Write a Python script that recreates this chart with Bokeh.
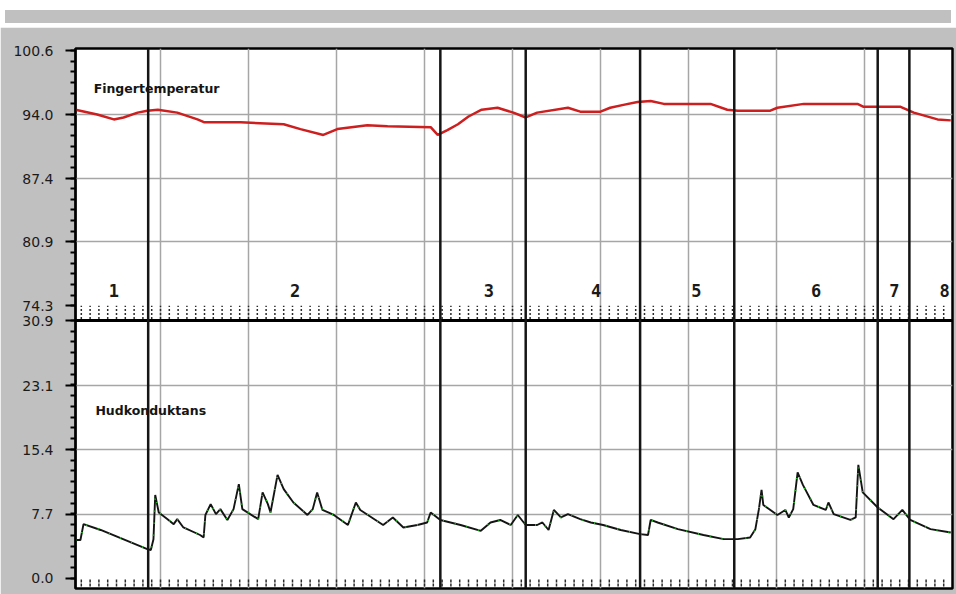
import numpy as np
from bokeh.plotting import figure
from bokeh.models import (Range1d, FixedTicker, SingleIntervalTicker, Span, Label,
                          ColumnDataSource, Div, Grid, CustomJSTickFormatter)
from bokeh.layouts import column
from bokeh.embed import file_html
from bokeh.resources import INLINE
from bokeh.core.properties import value

# ---------------- data ----------------
# session time (grid every 10 units, ruler every 1 unit)
temp_t = [0.34, 2.8, 4.7, 5.8, 7.4, 8.5, 9.7, 11.9, 14.2, 15.0,
          19.1, 24.0, 25.9, 28.5, 30.1, 33.5, 35.8, 40.7, 41.5, 42.6,
          43.8, 45.0, 46.5, 48.3, 50.1, 51.5, 52.8, 56.3, 57.7, 60.0,
          61.1, 62.6, 64.2, 65.7, 67.2, 72.5, 74.4, 75.6, 79.3, 80.1,
          83.1, 89.2, 89.9, 94.1, 95.6, 98.3, 99.8]
temp_v = [94.5, 94.0, 93.5, 93.7, 94.2, 94.4, 94.5, 94.2, 93.5, 93.2,
          93.2, 93.0, 92.5, 91.9, 92.5, 92.9, 92.8, 92.7, 91.9, 92.4,
          93.0, 93.8, 94.5, 94.7, 94.2, 93.7, 94.2, 94.7, 94.3, 94.3,
          94.7, 95.0, 95.3, 95.4, 95.1, 95.1, 94.5, 94.4, 94.4, 94.7,
          95.1, 95.1, 94.8, 94.8, 94.2, 93.5, 93.4]

cond_t = [0.34, 0.9, 1.25, 3.2, 8.5, 8.9, 9.2, 9.4, 9.8, 10.8,
          11.5, 11.9, 12.6, 14.5, 14.9, 15.1, 15.7, 16.3, 16.8, 17.6,
          18.3, 18.9, 19.3, 21.1, 21.6, 22.2, 22.5, 23.3, 24.0, 25.1,
          26.7, 27.3, 27.8, 28.4, 29.7, 31.3, 32.2, 32.7, 35.3, 36.4,
          37.6, 39.2, 40.3, 40.7, 41.8, 44.1, 46.4, 47.5, 48.6, 49.8,
          50.6, 51.5, 52.8, 53.4, 54.1, 54.7, 55.5, 56.3, 57.7, 58.9,
          60.3, 62.3, 64.5, 65.4, 65.7, 66.5, 68.8, 71.7, 74.0, 75.6,
          77.0, 77.6, 78.0, 78.3, 78.5, 80.1, 81.0, 81.4, 81.9, 82.4,
          83.0, 84.2, 85.6, 85.9, 86.5, 88.4, 89.0, 89.3, 89.8, 91.5,
          93.3, 94.3, 95.2, 97.5, 99.8]
cond_v = [4.6, 4.6, 6.5, 5.8, 3.5, 3.4, 4.7, 10.0, 7.9, 7.1,
          6.5, 7.1, 6.1, 5.2, 4.9, 7.6, 8.9, 7.7, 8.3, 7.0,
          8.3, 11.3, 8.3, 7.1, 10.3, 8.9, 7.9, 12.4, 10.7, 9.1,
          7.6, 8.3, 10.3, 8.2, 7.6, 6.4, 9.1, 8.2, 6.4, 7.3,
          6.1, 6.4, 6.7, 7.9, 7.0, 6.4, 5.7, 6.7, 7.0, 6.4,
          7.6, 6.4, 6.4, 6.7, 5.8, 8.2, 7.3, 7.7, 7.1, 6.7,
          6.4, 5.8, 5.3, 5.2, 7.0, 6.7, 5.9, 5.2, 4.7, 4.7,
          4.9, 5.9, 8.3, 10.6, 8.8, 7.6, 8.2, 7.3, 8.3, 12.7,
          11.2, 8.8, 8.2, 9.1, 7.7, 7.0, 7.3, 13.6, 10.3, 8.5,
          7.1, 8.2, 7.0, 5.9, 5.5]

event_t = [8.6, 41.8, 51.5, 64.5, 75.2, 91.5, 95.1]
segment_names = ["1", "2", "3", "4", "5", "6", "7", "8"]
segment_t = [4.7, 25.3, 47.3, 59.5, 70.9, 84.5, 93.4, 99.1]

temp_ticks = [74.3, 80.9, 87.4, 94.0, 100.6]
cond_ticks = [0.0, 7.7, 15.4, 23.1, 30.9]

temp_title = "Fingertemperatur"
cond_title = "Hudkonduktans"

# ---------------- ranges: two stacked panels in one frame ----------------
GRAY = "#c0c0c0"
GRID = "#a6a6a6"
T_LO, T_HI = 45.14, 100.81      # temperature scale over the whole frame
C_LO, C_HI = -1.21, 63.49       # conductance scale over the whole frame
T_PANEL_BOTTOM = 72.77          # where the temperature panel ends (divider)


def c2t(c):
    return T_LO + (c - C_LO) * (T_HI - T_LO) / (C_HI - C_LO)


p = figure(frame_width=877, frame_height=540,
           x_range=Range1d(0.34, 100.0), y_range=Range1d(T_LO, T_HI),
           output_backend="svg", toolbar_location=None,
           min_border_left=75, min_border_right=4, min_border_top=21,
           min_border_bottom=6)
p.extra_y_ranges = {"cond": Range1d(C_LO, C_HI)}
p.background_fill_color = "white"
p.border_fill_color = GRAY
p.outline_line_color = "black"
p.outline_line_width = 2.5
p.xaxis.visible = False

# left axis carrying both panels' scales
ax_pos = temp_ticks + [c2t(c) for c in cond_ticks]
ax_lab = [f"{v:.1f}" for v in temp_ticks] + [f"{v:.1f}" for v in cond_ticks]
minor = list(np.linspace(temp_ticks[0], temp_ticks[-1], 25)) + \
        [c2t(c) for c in np.linspace(cond_ticks[0], cond_ticks[-1], 25)]
ya = p.yaxis[0]
ya.ticker = FixedTicker(ticks=ax_pos, minor_ticks=minor)
ya.formatter = CustomJSTickFormatter(args=dict(pos=ax_pos, lab=ax_lab), code="""
    let best = 0, bd = Infinity;
    for (let i = 0; i < pos.length; i++) {
        const d = Math.abs(pos[i] - tick);
        if (d < bd) { bd = d; best = i; }
    }
    return lab[best];
""")
ya.axis_line_color = "black"
ya.axis_line_width = 2
ya.major_tick_in = 0
ya.major_tick_out = 10
ya.major_tick_line_width = 2
ya.minor_tick_in = 0
ya.minor_tick_out = 5
ya.minor_tick_line_width = 2
ya.major_label_standoff = 12
ya.major_label_text_font = "DejaVu Sans"
ya.major_label_text_font_size = "14px"
ya.major_label_text_color = "#1a1a1a"

# grids
p.xgrid[0].ticker = SingleIntervalTicker(interval=10, num_minor_ticks=0)
p.xgrid[0].grid_line_color = GRID
p.xgrid[0].grid_line_width = 1.5
p.ygrid[0].ticker = FixedTicker(ticks=temp_ticks[1:4])
p.ygrid[0].grid_line_color = GRID
p.ygrid[0].grid_line_width = 1.5
p.add_layout(Grid(dimension=1, y_range_name="cond",
                  ticker=FixedTicker(ticks=cond_ticks[1:4]),
                  grid_line_color=GRID, grid_line_width=1.5))

# rulers at the foot of each panel (one tick per time unit)
ruler_x = np.arange(1, 100)
p.segment(x0=ruler_x, y0=T_PANEL_BOTTOM + 0.15, x1=ruler_x, y1=temp_ticks[0],
          line_color="#2a2a2a", line_width=1.5, line_dash="2 2")
p.segment(x0=ruler_x, y0=C_LO + 0.25, x1=ruler_x, y1=cond_ticks[0] - 0.1,
          line_color="#2a2a2a", line_width=1.5, line_dash="3 1",
          y_range_name="cond")

# divider between the panels
p.add_layout(Span(location=cond_ticks[-1], dimension="width", y_range_name="cond",
                  line_color="black", line_width=3))

# event markers
for t in event_t:
    p.add_layout(Span(location=t, dimension="height", line_color="#151515",
                      line_width=2.5))

# traces
p.line(temp_t, temp_v, line_color="#cc1f1f", line_width=2.5)
p.line(cond_t, cond_v, line_color="#141414", line_width=1.9, y_range_name="cond")
p.line(cond_t, cond_v, line_color="#22c422", line_width=2, line_dash="1 11",
       y_range_name="cond")

# panel names and segment numbers
p.add_layout(Label(x=2.4, y=96.7, text=temp_title, text_font="DejaVu Sans",
                   text_font_size="12.5px", text_font_style="bold",
                   text_color="#151515", text_baseline="middle"))
p.add_layout(Label(x=2.6, y=20.1, text=cond_title, text_font="DejaVu Sans",
                   text_font_size="12.5px", text_font_style="bold",
                   text_color="#151515", text_baseline="middle",
                   y_range_name="cond"))
seg_src = ColumnDataSource(dict(x=segment_t, y=[75.9] * len(segment_t),
                                txt=segment_names))
p.text(x="x", y="y", text="txt", source=seg_src,
       text_font=value("DejaVu Sans Mono"), text_font_size="17px",
       text_font_style="bold", text_color="#1a1a1a",
       text_align="center", text_baseline="middle")

header = Div(text='<div style="height:10px;background:white"></div>'
                  '<div style="margin-left:5px;width:946px;height:13px;'
                  'background:#c0c0c0"></div>'
                  '<div style="height:4px;background:white"></div>',
             width=956, height=27, margin=0)

layout = column(header, p, spacing=0)
open("out.html", "w").write(file_html(layout, INLINE))
